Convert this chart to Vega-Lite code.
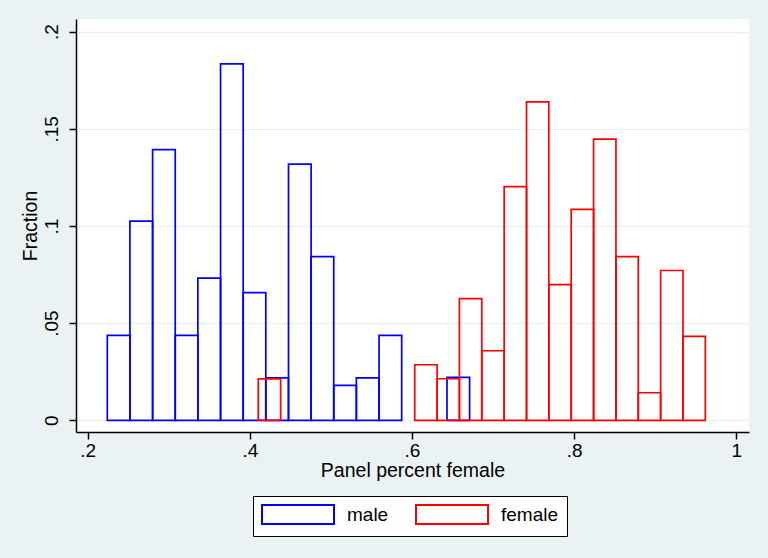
{
  "$schema": "https://vega.github.io/schema/vega-lite/v6.json",
  "width": 673,
  "height": 413,
  "autosize": {"type": "none"},
  "padding": {"left": 76, "top": 19, "right": 19, "bottom": 126},
  "background": "#EAF2F3",
  "config": {
    "font": "Liberation Sans",
    "view": {"fill": "white", "stroke": null},
    "axis": {
      "domainColor": "black",
      "domainWidth": 1.5,
      "tickColor": "black",
      "tickWidth": 1.5,
      "tickSize": 7,
      "labelColor": "black",
      "titleColor": "black",
      "labelFontSize": 19,
      "titleFontSize": 19.5,
      "titleFontWeight": "normal",
      "labelFont": "Liberation Sans",
      "titleFont": "Liberation Sans"
    }
  },
  "data": {
    "values": [
      {"sex": "male", "bin_start": 0.2242, "bin_end": 0.2521, "fraction": 0.0437},
      {"sex": "male", "bin_start": 0.2521, "bin_end": 0.2801, "fraction": 0.1025},
      {"sex": "male", "bin_start": 0.2801, "bin_end": 0.3080, "fraction": 0.1393},
      {"sex": "male", "bin_start": 0.3080, "bin_end": 0.3359, "fraction": 0.0437},
      {"sex": "male", "bin_start": 0.3359, "bin_end": 0.3639, "fraction": 0.0732},
      {"sex": "male", "bin_start": 0.3639, "bin_end": 0.3918, "fraction": 0.1834},
      {"sex": "male", "bin_start": 0.3918, "bin_end": 0.4197, "fraction": 0.0657},
      {"sex": "male", "bin_start": 0.4197, "bin_end": 0.4477, "fraction": 0.0218},
      {"sex": "male", "bin_start": 0.4477, "bin_end": 0.4756, "fraction": 0.1318},
      {"sex": "male", "bin_start": 0.4756, "bin_end": 0.5035, "fraction": 0.0842},
      {"sex": "male", "bin_start": 0.5035, "bin_end": 0.5314, "fraction": 0.0180},
      {"sex": "male", "bin_start": 0.5314, "bin_end": 0.5594, "fraction": 0.0218},
      {"sex": "male", "bin_start": 0.5594, "bin_end": 0.5873, "fraction": 0.0437},
      {"sex": "male", "bin_start": 0.6432, "bin_end": 0.6711, "fraction": 0.0221},
      {"sex": "female", "bin_start": 0.4104, "bin_end": 0.4380, "fraction": 0.0213},
      {"sex": "female", "bin_start": 0.6034, "bin_end": 0.6310, "fraction": 0.0286},
      {"sex": "female", "bin_start": 0.6310, "bin_end": 0.6585, "fraction": 0.0214},
      {"sex": "female", "bin_start": 0.6585, "bin_end": 0.6861, "fraction": 0.0626},
      {"sex": "female", "bin_start": 0.6861, "bin_end": 0.7137, "fraction": 0.0358},
      {"sex": "female", "bin_start": 0.7137, "bin_end": 0.7413, "fraction": 0.1203},
      {"sex": "female", "bin_start": 0.7413, "bin_end": 0.7688, "fraction": 0.1639},
      {"sex": "female", "bin_start": 0.7688, "bin_end": 0.7964, "fraction": 0.0698},
      {"sex": "female", "bin_start": 0.7964, "bin_end": 0.8240, "fraction": 0.1085},
      {"sex": "female", "bin_start": 0.8240, "bin_end": 0.8516, "fraction": 0.1447},
      {"sex": "female", "bin_start": 0.8516, "bin_end": 0.8791, "fraction": 0.0842},
      {"sex": "female", "bin_start": 0.8791, "bin_end": 0.9067, "fraction": 0.0142},
      {"sex": "female", "bin_start": 0.9067, "bin_end": 0.9343, "fraction": 0.0771},
      {"sex": "female", "bin_start": 0.9343, "bin_end": 0.9618, "fraction": 0.0432}
    ]
  },
  "mark": {"type": "bar", "filled": false, "strokeWidth": 1.7},
  "encoding": {
    "x": {
      "field": "bin_start",
      "type": "quantitative",
      "scale": {"domain": [0.1856, 1.0157], "nice": false, "zero": false},
      "axis": {
        "title": "Panel percent female",
        "values": [0.2, 0.4, 0.6, 0.8, 1],
        "labelExpr": "replace(format(datum.value, '.2~f'), '0.', '.')",
        "grid": false,
        "labelPadding": 2,
        "titlePadding": 1,
        "labelFlush": false
      }
    },
    "x2": {"field": "bin_end"},
    "y": {
      "field": "fraction",
      "type": "quantitative",
      "scale": {"domain": [-0.006, 0.2065], "nice": false, "zero": false},
      "axis": {
        "title": "Fraction",
        "values": [0, 0.05, 0.1, 0.15, 0.2],
        "labelExpr": "datum.value == 0 ? '0' : replace(format(datum.value, '.2~f'), '0.', '.')",
        "labelAngle": -90,
        "labelAlign": "center",
        "labelBaseline": "bottom",
        "labelPadding": 8,
        "titlePadding": 2,
        "grid": true,
        "gridColor": "#EAF2F3",
        "gridWidth": 1.5,
        "labelFlush": false
      }
    },
    "y2": {"datum": 0},
    "color": {
      "field": "sex",
      "type": "nominal",
      "sort": ["male", "female"],
      "scale": {"domain": ["male", "female"], "range": ["#0000FF", "#FF0000"]},
      "legend": {
        "title": null,
        "orient": "none",
        "direction": "horizontal",
        "legendX": 177,
        "legendY": 477,
        "strokeColor": "black",
        "fillColor": "white",
        "padding": 8,
        "symbolType": "M-1,-1H6.58V1H-1Z",
        "symbolSize": 361,
        "symbolStrokeWidth": 2,
        "labelFontSize": 19,
        "labelColor": "black",
        "labelFont": "Liberation Sans",
        "labelOffset": 65,
        "columnPadding": 23
      }
    }
  }
}
